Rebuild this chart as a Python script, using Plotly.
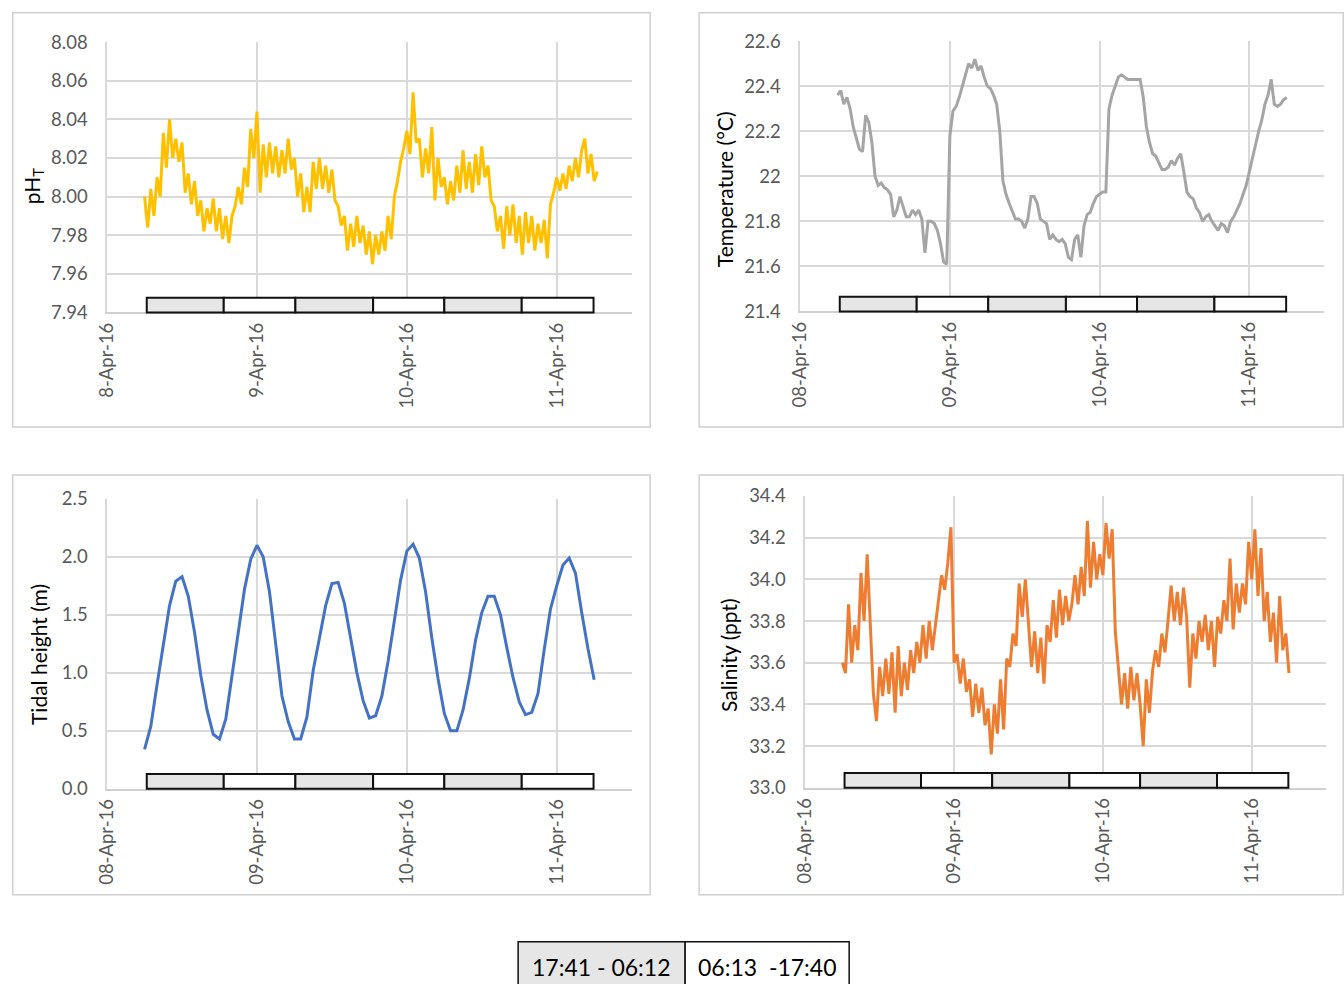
import pandas as pd
import plotly.graph_objects as go

# ---------------- data ----------------
START = pd.Timestamp("2016-04-08 00:00")
SERIES_START_H = 6.0          # first sample, hours after 8-Apr 00:00
STEP_FAST_H = 0.5             # pH / temperature / salinity sampling step (h)
STEP_TIDE_H = 1.0             # tide sampling step (h)

ph_values = [
    8.000, 7.984, 8.004, 7.990, 8.010, 8.000, 8.033, 8.015, 8.040, 8.020,
    8.030, 8.018, 8.028, 8.002, 8.012, 7.996, 8.008, 7.990, 7.998, 7.982,
    7.994, 7.986, 7.999, 7.982, 7.994, 7.978, 7.990, 7.976, 7.990, 7.995,
    8.005, 7.996, 8.015, 8.005, 8.035, 8.020, 8.044, 8.002, 8.027, 8.010,
    8.028, 8.012, 8.026, 8.010, 8.024, 8.012, 8.030, 8.014, 8.020, 8.000,
    8.012, 7.992, 8.005, 7.992, 8.018, 8.004, 8.020, 8.004, 8.016, 8.002,
    8.014, 7.998, 7.995, 7.985, 7.990, 7.972, 7.986, 7.974, 7.990, 7.976,
    7.985, 7.970, 7.982, 7.965, 7.980, 7.970, 7.982, 7.972, 7.990, 7.978,
    8.000, 8.008, 8.018, 8.025, 8.034, 8.022, 8.054, 8.028, 8.030, 8.010,
    8.025, 8.012, 8.036, 7.998, 8.020, 8.005, 8.010, 7.996, 8.008, 7.998,
    8.016, 8.002, 8.024, 8.004, 8.018, 8.002, 8.022, 8.006, 8.026, 8.010,
    8.016, 7.998, 7.995, 7.982, 7.990, 7.973, 7.995, 7.980, 7.996, 7.976,
    7.990, 7.970, 7.992, 7.976, 7.990, 7.972, 7.986, 7.976, 7.988, 7.968,
    7.996, 8.002, 8.010, 8.003, 8.012, 8.004, 8.016, 8.008, 8.020, 8.010,
    8.024, 8.030, 8.012, 8.022, 8.008, 8.013,
]

temp_values = [
    22.36, 22.38, 22.32, 22.35, 22.30, 22.22, 22.17, 22.12, 22.11, 22.27,
    22.24, 22.15, 22.00, 21.96, 21.97, 21.95, 21.94, 21.92, 21.82, 21.85,
    21.91, 21.86, 21.82, 21.82, 21.85, 21.83, 21.85, 21.81, 21.66, 21.80,
    21.80, 21.79, 21.76, 21.70, 21.62, 21.61, 22.18, 22.29, 22.31, 22.35,
    22.40, 22.45, 22.50, 22.48, 22.52, 22.47, 22.49, 22.44, 22.40, 22.39,
    22.36, 22.32, 22.20, 21.98, 21.92, 21.88, 21.84, 21.81, 21.81, 21.80,
    21.77, 21.81, 21.91, 21.91, 21.88, 21.81, 21.80, 21.79, 21.72, 21.74,
    21.72, 21.71, 21.72, 21.70, 21.64, 21.63, 21.72, 21.74, 21.64, 21.78,
    21.83, 21.84, 21.88, 21.91, 21.92, 21.93, 21.93, 22.30, 22.36, 22.40,
    22.44, 22.45, 22.44, 22.43, 22.43, 22.43, 22.43, 22.43, 22.35, 22.22,
    22.15, 22.10, 22.09, 22.06, 22.03, 22.03, 22.04, 22.07, 22.05, 22.08,
    22.10, 22.02, 21.93, 21.91, 21.90, 21.86, 21.84, 21.80, 21.82, 21.83,
    21.80, 21.78, 21.76, 21.79, 21.78, 21.75, 21.80, 21.82, 21.85, 21.88,
    21.92, 21.96, 22.02, 22.08, 22.15, 22.20, 22.25, 22.32, 22.36, 22.43,
    22.32, 22.31, 22.32, 22.34, 22.35,
]

tide_values = [
    0.34, 0.54, 0.90, 1.25, 1.58, 1.79, 1.83, 1.66, 1.35, 0.98,
    0.68, 0.47, 0.43, 0.60, 0.98, 1.38, 1.72, 1.98, 2.10, 2.00,
    1.70, 1.25, 0.80, 0.58, 0.43, 0.43, 0.62, 1.02, 1.30, 1.58,
    1.77, 1.78, 1.60, 1.30, 1.00, 0.76, 0.61, 0.63, 0.80, 1.10,
    1.45, 1.80, 2.05, 2.11, 1.99, 1.70, 1.30, 0.95, 0.65, 0.50,
    0.50, 0.68, 0.95, 1.28, 1.52, 1.66, 1.66, 1.50, 1.22, 0.96,
    0.75, 0.64, 0.66, 0.82, 1.20, 1.55, 1.75, 1.93, 1.99, 1.86,
    1.52, 1.21, 0.94,
]

sal_values = [
    33.60, 33.55, 33.88, 33.60, 33.78, 33.66, 34.03, 33.80, 34.12, 33.78,
    33.45, 33.32, 33.58, 33.44, 33.62, 33.45, 33.65, 33.36, 33.68, 33.44,
    33.60, 33.47, 33.66, 33.55, 33.70, 33.60, 33.78, 33.62, 33.80, 33.66,
    33.78, 33.90, 34.02, 33.95, 34.08, 34.25, 33.60, 33.64, 33.50, 33.62,
    33.46, 33.52, 33.34, 33.50, 33.36, 33.48, 33.30, 33.38, 33.16, 33.40,
    33.26, 33.52, 33.28, 33.62, 33.58, 33.74, 33.68, 33.98, 33.82, 34.00,
    33.80, 33.58, 33.75, 33.55, 33.72, 33.50, 33.78, 33.70, 33.90, 33.72,
    33.95, 33.78, 33.92, 33.80, 33.88, 34.02, 33.88, 34.06, 33.92, 34.28,
    33.96, 34.18, 34.00, 34.12, 34.02, 34.27, 34.10, 34.24, 33.75, 33.56,
    33.40, 33.55, 33.38, 33.58, 33.42, 33.55, 33.40, 33.20, 33.52, 33.36,
    33.56, 33.66, 33.58, 33.74, 33.65, 33.80, 33.97, 33.80, 33.94, 33.78,
    33.96, 33.82, 33.48, 33.74, 33.62, 33.80, 33.70, 33.83, 33.66, 33.80,
    33.58, 33.82, 33.74, 33.90, 33.80, 34.10, 33.76, 33.98, 33.84, 33.98,
    33.88, 34.18, 34.00, 34.24, 33.92, 34.15, 33.80, 33.94, 33.70, 33.84,
    33.60, 33.92, 33.66, 33.74, 33.55,
]

# night / day band boundaries (hours after 8-Apr 00:00); alternating night (grey), day (white)
band_bounds_h = [6.35, 18.68, 30.15, 42.6, 54.0, 66.4, 77.9]
band_kinds = ["night", "day", "night", "day", "night", "day"]
legend_labels = ["17:41 - 06:12", "06:13\u00a0 -17:40"]

# axis titles and tick labels
axis_titles = ["pH<sub>T</sub>", "Temperature (°C)", "Tidal height (m)", "Salinity (ppt)"]
date_ticks = ["2016-04-08", "2016-04-09", "2016-04-10", "2016-04-11"]
ph_ticks = [7.94, 7.96, 7.98, 8.00, 8.02, 8.04, 8.06, 8.08]
temp_ticks = [21.4, 21.6, 21.8, 22.0, 22.2, 22.4, 22.6]
temp_ticktext = ["21.4", "21.6", "21.8", "22", "22.2", "22.4", "22.6"]
tide_ticks = [0.0, 0.5, 1.0, 1.5, 2.0, 2.5]
sal_ticks = [33.0, 33.2, 33.4, 33.6, 33.8, 34.0, 34.2, 34.4]


def times_for(values, step_h):
    return [START + pd.Timedelta(hours=SERIES_START_H + i * step_h) for i in range(len(values))]


def hour_ts(h):
    return START + pd.Timedelta(hours=h)


# ---------------- figure ----------------
W, H = 1344, 984
FONT = "Lato, 'Open Sans', sans-serif"
GRID = "#d9d9d9"
TICKC = "#595959"
NIGHT = "#e6e6e6"

# the photographed page comes out slightly shrunk and offset; map target pixels to layout pixels
OFF_X, SC_X = 10.9, 0.991
OFF_Y, SC_Y = 11.9, 0.978


def px(x):
    d = (x - OFF_X) / SC_X
    return min(max(d, 0.75), W - 0.75) / W


def py(y):
    d = (y - OFF_Y) / SC_Y
    return 1 - min(max(d, 0.75), H + 40) / H


fig = go.Figure()

panels = [
    # name, values, step, color, x-domain px, y-domain px, title idx, title centre px, ticks, ticktext, date fmt
    ("1", ph_values, STEP_FAST_H, "#FFC000", (106, 630.5), (42, 312.5), 0, (32, 186),
     ph_ticks, [f"{v:.2f}" for v in ph_ticks], "%-d-%b-%y"),
    ("2", temp_values, STEP_FAST_H, "#A5A5A5", (799, 1323), (41, 311.5), 1, (723, 189),
     temp_ticks, temp_ticktext, "%d-%b-%y"),
    ("3", tide_values, STEP_TIDE_H, "#4472C4", (106, 630.5), (499, 789), 2, (38, 655),
     tide_ticks, [f"{v:.1f}" for v in tide_ticks], "%d-%b-%y"),
    ("4", sal_values, STEP_FAST_H, "#ED7D31", (804, 1325), (496, 788), 3, (728, 655),
     sal_ticks, [f"{v:.1f}" for v in sal_ticks], "%d-%b-%y"),
]

layout_axes = {}
shapes = []
annotations = []
for name, vals, step, color, xd, yd, ti, tc, yt, ytt, dfmt in panels:
    xa = "x" if name == "1" else "x" + name
    ya = "y" if name == "1" else "y" + name
    fig.add_trace(go.Scatter(
        x=times_for(vals, step), y=vals, mode="lines",
        line=dict(color=color, width=3), xaxis=xa, yaxis=ya, showlegend=False,
        hoverinfo="skip",
    ))
    xkey = "xaxis" if name == "1" else "xaxis" + name
    ykey = "yaxis" if name == "1" else "yaxis" + name
    layout_axes[xkey] = dict(
        domain=[px(xd[0]), px(xd[1])], anchor=ya, type="date",
        range=[hour_ts(0), hour_ts(84)],
        tickvals=date_ticks, tickformat=dfmt, tickangle=-90,
        showgrid=True, gridcolor=GRID, gridwidth=1.5,
        showline=True, linecolor="#d0d0d0", linewidth=1.5,
        ticks="outside", ticklen=1, tickcolor="rgba(0,0,0,0)",
        tickfont=dict(family=FONT, size=18.5, color=TICKC), zeroline=False,
    )
    layout_axes[ykey] = dict(
        domain=[py(yd[1]), py(yd[0])], anchor=xa,
        range=[yt[0], yt[-1]], tickvals=yt, ticktext=ytt,
        showgrid=True, gridcolor=GRID, gridwidth=1.5,
        showline=True, linecolor=GRID, linewidth=1.5,
        ticks="outside", ticklen=14, tickcolor="rgba(0,0,0,0)",
        tickfont=dict(family=FONT, size=18.5, color=TICKC), zeroline=False,
    )
    # axis title (placed like the Excel original, a little below the axis centre)
    annotations.append(dict(
        xref="paper", yref="paper", x=px(tc[0]), y=py(tc[1]), text=axis_titles[ti],
        textangle=-90, showarrow=False, xanchor="center", yanchor="middle",
        font=dict(family=FONT, size=21, color="#000000"),
    ))
    # day/night bands
    for i, kind in enumerate(band_kinds):
        shapes.append(dict(
            type="rect", xref=xa, yref=ya + " domain", ysizemode="pixel", yanchor=0,
            x0=hour_ts(band_bounds_h[i]), x1=hour_ts(band_bounds_h[i + 1]), y0=0, y1=14.8,
            fillcolor=NIGHT if kind == "night" else "#ffffff",
            line=dict(color="#111111", width=2), layer="above",
        ))

# panel frames
for (x0, y0, x1, y1) in [(5, 5, 649, 427), (698, 5, 1342, 427), (5, 475, 649, 895), (698, 475, 1342, 895)]:
    shapes.append(dict(type="rect", xref="paper", yref="paper",
                       x0=px(x0), x1=px(x1), y0=py(y1), y1=py(y0),
                       line=dict(color="#d0d0d0", width=1.5), fillcolor="rgba(0,0,0,0)", layer="below"))

# legend boxes
leg_cells = [(517, 684, NIGHT), (684, 848, "#ffffff")]
for (x0, x1, fc), label in zip(leg_cells, legend_labels):
    shapes.append(dict(type="rect", xref="paper", yref="paper",
                       x0=px(x0), x1=px(x1), y0=py(1010), y1=py(942),
                       line=dict(color="#111111", width=1.5), fillcolor=fc, layer="above"))
    annotations.append(dict(xref="paper", yref="paper", x=px((x0 + x1) / 2), y=py(967),
                            text=label, showarrow=False, xanchor="center", yanchor="middle",
                            font=dict(family=FONT, size=23, color="#000000")))

fig.update_layout(
    width=W, height=H, margin=dict(l=0, r=0, t=0, b=0),
    paper_bgcolor="#ffffff", plot_bgcolor="#ffffff",
    shapes=shapes, annotations=annotations, showlegend=False, hovermode=False,
    **layout_axes,
)

fig.write_html(
    "out.html",
    config={"displayModeBar": False, "responsive": False},
    post_script=(
        "var gd=document.getElementById('{plot_id}');"
        "gd.style.position='fixed';gd.style.left='0px';gd.style.top='0px';"
        "document.body.style.margin='0';document.body.style.padding='0';"
        "document.body.style.overflow='hidden';"
        "document.documentElement.style.overflow='hidden';"
    ),
)
